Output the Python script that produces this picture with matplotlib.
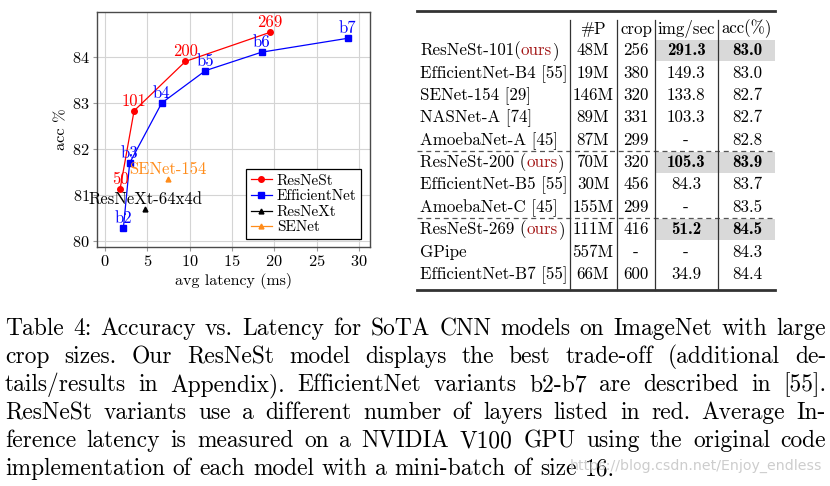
import matplotlib
matplotlib.use('Agg')
import matplotlib.pyplot as plt

plt.rcParams['font.family'] = 'cmr10'
plt.rcParams['axes.formatter.use_mathtext'] = True
plt.rcParams['mathtext.fontset'] = 'cm'

# ---- chart data (latency ms, top-1 acc %) ----
resnest_lat = [1.77, 3.43, 9.50, 19.5]
resnest_acc = [81.13, 82.83, 83.9, 84.53]
resnest_lbl = ['50', '101', '200', '269']

effnet_lat = [2.17, 2.91, 6.70, 11.86, 18.5, 28.65]
effnet_acc = [80.3, 81.7, 83.0, 83.7, 84.1, 84.4]
effnet_lbl = ['b2', 'b3', 'b4', 'b5', 'b6', 'b7']

resnext_lat = [4.72]
resnext_acc = [80.7]
resnext_lbl = ['ResNeXt-64x4d']

senet_lat = [7.47]
senet_acc = [81.35]
senet_lbl = ['SENet-154']

# ---- table data ----
header = ['#P', 'crop', 'img/sec', 'acc(%)']
models = ['ResNeSt-101', 'EfficientNet-B4 [55]', 'SENet-154 [29]', 'NASNet-A [74]',
          'AmoebaNet-A [45]', 'ResNeSt-200', 'EfficientNet-B5 [55]', 'AmoebaNet-C [45]',
          'ResNeSt-269', 'GPipe', 'EfficientNet-B7 [55]']
params = ['48M', '19M', '146M', '89M', '87M', '70M', '30M', '155M', '111M', '557M', '66M']
crops = ['256', '380', '320', '331', '299', '320', '456', '299', '416', '-', '600']
speed = ['291.3', '149.3', '133.8', '103.3', '-', '105.3', '84.3', '-', '51.2', '-', '34.9']
accs = ['83.0', '83.0', '82.7', '82.7', '82.8', '83.9', '83.7', '83.5', '84.5', '84.3', '84.4']
ours = [0, 5, 8]
groups_after = [4, 7]

caption = [
    "Table 4: Accuracy vs. Latency for SoTA CNN models on ImageNet with large",
    "crop sizes. Our ResNeSt model displays the best trade-off (additional de-",
    "tails/results in Appendix). EfficientNet variants b2-b7 are described in [55].",
    "ResNeSt variants use a different number of layers listed in red. Average In-",
    "ference latency is measured on a NVIDIA V100 GPU using the original code",
    "implementation of each model with a mini-batch of size 16.",
]
watermark = "https://blog.csdn.net/Enjoy_endless"

RED = 'red'
BLUE = 'blue'
ORANGE = '#ff8c1a'

fig = plt.figure(figsize=(8.3, 4.86), dpi=100)

# ---------------- chart ----------------
ax = fig.add_axes([97 / 830, (486 - 247) / 486, 273 / 830, 235 / 486])
ax.plot(resnest_lat, resnest_acc, '-o', color=RED, lw=0.9, ms=4, label='ResNeSt')
ax.plot(effnet_lat, effnet_acc, '-s', color=BLUE, lw=0.9, ms=4.5, label='EfficientNet')
ax.plot(resnext_lat, resnext_acc, '-^', color='black', lw=0.9, ms=3.5, label='ResNeXt')
ax.plot(senet_lat, senet_acc, '-^', color=ORANGE, lw=0.9, ms=3.5, label='SENet')

for xs, ys, ls, c in [(resnest_lat, resnest_acc, resnest_lbl, RED),
                      (effnet_lat, effnet_acc, effnet_lbl, BLUE),
                      (resnext_lat, resnext_acc, resnext_lbl, 'black'),
                      (senet_lat, senet_acc, senet_lbl, ORANGE)]:
    for x, y, s in zip(xs, ys, ls):
        ax.annotate(s, (x, y), xytext=(0, 1.5), textcoords='offset points',
                    ha='center', va='bottom', color=c, fontsize=12)

ax.set_xlim(-0.95, 31.3)
ax.set_ylim(79.88, 84.97)
ax.set_xticks([0, 5, 10, 15, 20, 25, 30])
ax.set_yticks([80, 81, 82, 83, 84])
ax.grid(True, color='#d4d4d4', lw=0.8)
ax.set_axisbelow(True)
for sp in ax.spines.values():
    sp.set_color('#4a4a4a')
    sp.set_linewidth(1.0)
ax.tick_params(direction='out', length=3, width=0.8, color='#9a9a9a',
               labelsize=11.8, pad=2)
ax.set_xlabel('avg latency (ms)', fontsize=11.5, labelpad=3)
ax.set_ylabel('acc %', fontsize=11.8, labelpad=3)
leg = ax.legend(loc='lower right', bbox_to_anchor=(0.967, 0.034), borderaxespad=0,
                fontsize=11, fancybox=False, edgecolor='black', framealpha=1,
                handlelength=1.4, handletextpad=0.3, labelspacing=0.12, borderpad=0.3)
leg.get_frame().set_linewidth(0.9)

# ---------------- page overlay (pixel coords) ----------------
page = fig.add_axes([0, 0, 1, 1])
page.set_xlim(0, 830)
page.set_ylim(486, 0)
page.axis('off')
page.patch.set_visible(False)
renderer = fig.canvas.get_renderer()


def width_of(t):
    return t.get_window_extent(renderer).width


def pieces(x, y, parts, size):
    for s, color in parts:
        t = page.text(x, y, s, fontsize=size, color=color, ha='left', va='baseline')
        x += width_of(t)


# table
TL, TR = 417, 775
vlines = [570, 617, 655, 718]
col_c = [593, 636, 686, 747]
row0, dy = 50.7, 22.36
tsize = 12.2
base = 4.6

page.plot([TL, TR], [11, 11], color='#333333', lw=2.0)
page.plot([TL, TR], [289.5, 289.5], color='#333333', lw=2.0)
for i in ours:
    yc = row0 + i * dy
    page.add_patch(plt.Rectangle((vlines[2], yc - 10.5), TR - vlines[2], 21,
                                 color='#d9d9d9', lw=0, zorder=0))
for g in groups_after:
    yl = row0 + (g + 0.5) * dy
    page.plot([TL, TR], [yl, yl], color='#555555', lw=0.9, ls=(0, (4, 3)))
for xv in vlines:
    page.plot([xv, xv], [20.5, 289.5], color='#333333', lw=0.9)

for j, h in enumerate(header):
    page.text(col_c[j], 29 + base, h, fontsize=tsize, ha='center', va='baseline')

for i, name in enumerate(models):
    yb = row0 + i * dy + base
    if i in ours:
        sep = '(' if i == 0 else ' ('
        pieces(420, yb, [(name + sep, 'black'), ('ours', '#a31515'), (')', 'black')], tsize)
    else:
        page.text(420, yb, name, fontsize=tsize, ha='left', va='baseline')
    vals = [params[i], crops[i], speed[i], accs[i]]
    for j, v in enumerate(vals):
        bold = i in ours and j >= 2
        page.text(col_c[j], yb, v, fontsize=tsize, ha='center', va='baseline',
                  family='cmb10' if bold else 'cmr10')

# caption, justified
csize = 16.9
cl, cr = 5, 826
for k, line in enumerate(caption):
    yb = 335 + k * 28
    words = line.split(' ')
    ts = [page.text(0, yb, w, fontsize=csize, ha='left', va='baseline') for w in words]
    ws = [width_of(t) for t in ts]
    if k < len(caption) - 1:
        gap = (cr - cl - sum(ws)) / (len(words) - 1)
    else:
        gap = 0.333 * csize * 100 / 72
    x = cl
    for t, w in zip(ts, ws):
        t.set_x(x)
        x += w + gap

# watermark, sized to span 570..820 px
wm = page.text(570, 470, watermark, fontsize=10, color='#cdcdcd', family='DejaVu Sans',
               ha='left', va='baseline')
wm.set_fontsize(10 * 250 / width_of(wm))

plt.savefig('out.png', dpi=100)
